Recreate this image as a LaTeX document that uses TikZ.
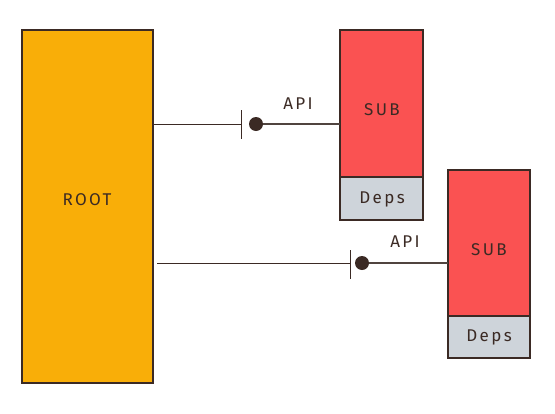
\documentclass[tikz,border=0pt]{standalone}
\usepackage{fontspec}
\setmainfont[LetterSpace=14]{Fira Sans}
\begin{document}
\begin{tikzpicture}[x=1pt,y=-1pt,
  box/.style={draw=linec,line width=1.2pt,inner sep=0pt},
  lbl/.style={font=\fontsize{17}{19}\selectfont,text=linec},
  conn/.style={draw=linec,line width=1pt},
  conng/.style={draw=linec!70!gray,line width=1.6pt},
  bar/.style={draw=linec,line width=1pt},
  dot/.style={circle,fill=linec,inner sep=0pt,minimum size=14pt}]
\definecolor{linec}{HTML}{3B2A24}
\definecolor{rootc}{HTML}{F9AE08}
\definecolor{subc}{HTML}{FA5252}
\definecolor{depc}{HTML}{CED4DA}
\useasboundingbox (0,0) rectangle (555,413);
% ROOT
\draw[box,fill=rootc] (22,30) rectangle (153,383);
\node[lbl] (root) at (87,200) {ROOT};
\coordinate (rootE1) at (153,124);
\coordinate (rootE2) at (157,263);
% SUB 1
\draw[box,fill=subc] (340,30) rectangle (423,177);
\draw[box,fill=depc] (340,177) rectangle (423,220);
\node[lbl] (sub1) at (382,110) {SUB};
\node[lbl] (dep1) at (382,199) {Deps};
\coordinate (sub1W) at (340,124);
% SUB 2
\draw[box,fill=subc] (448,170) rectangle (530,316);
\draw[box,fill=depc] (448,316) rectangle (530,358);
\node[lbl] (sub2) at (489,250) {SUB};
\node[lbl] (dep2) at (489,337) {Deps};
\coordinate (sub2W) at (448,263);
% connector 1
\coordinate (bar1t) at (241,110);
\coordinate (bar1b) at (241,139);
\node[dot] (dot1) at (256,124) {};
\draw[conn] (rootE1) -- (rootE1 -| bar1t);
\draw[bar] (bar1t) -- (bar1b);
\draw[conng] (dot1) -- (sub1W);
\node[lbl] (api1) at (298,104) {API};
% connector 2
\coordinate (bar2t) at (350,250);
\coordinate (bar2b) at (350,279);
\node[dot] (dot2) at (362,263) {};
\draw[conn] (rootE2) -- (rootE2 -| bar2t);
\draw[bar] (bar2t) -- (bar2b);
\draw[conng] (dot2) -- (sub2W);
\node[lbl] (api2) at (405,242) {API};
\end{tikzpicture}
\end{document}
